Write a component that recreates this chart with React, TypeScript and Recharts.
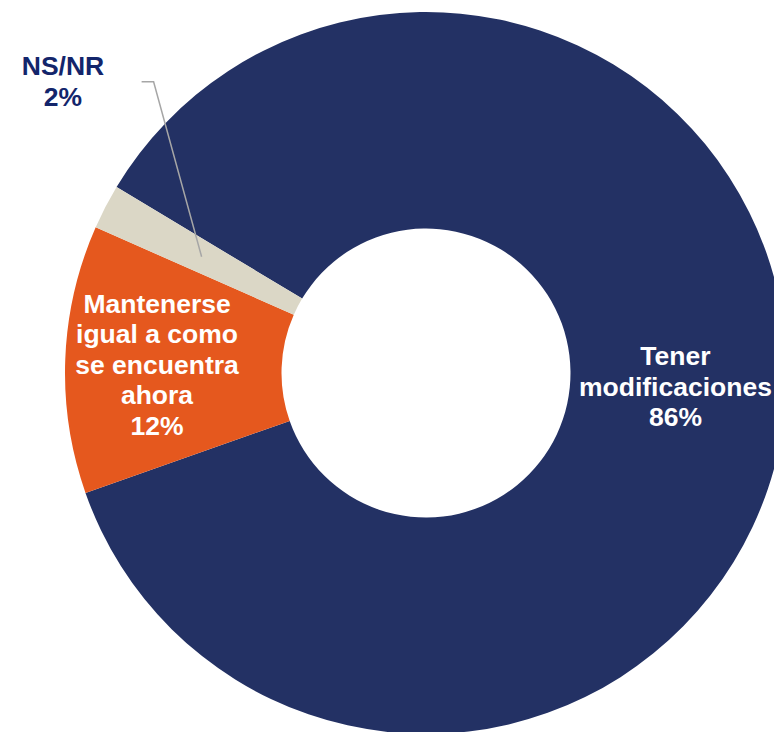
import { PieChart, Pie, Cell } from "recharts";

const categories = ["Tener modificaciones", "Mantenerse igual a como se encuentra ahora", "NS/NR"];
const values = [86, 12, 2];
const labelLines = [
  ["Tener", "modificaciones", "86%"],
  ["Mantenerse", "igual a como", "se encuentra", "ahora", "12%"],
  ["NS/NR", "2%"],
];

const COLORS = ["#233164", "#E5581E", "#DBD7C6"];
const RAD = Math.PI / 180;
const FONT = "'Liberation Sans', Arial, sans-serif";

// label placement relative to the slice's mid point (mid radius, mid angle)
const labelOffsets = [
  { dx: -2, dy: -33.5 },
  { dx: -16.4, dy: -50.3 },
  { dx: -138.6, dy: -181.7 },
];

const data = categories.map((name, i) => ({ name, value: values[i] }));

function renderLabel(props: any) {
  const { cx, cy, midAngle, innerRadius, outerRadius, index } = props;
  const r = (innerRadius + outerRadius) / 2;
  const ax = cx + r * Math.cos(-midAngle * RAD);
  const ay = cy + r * Math.sin(-midAngle * RAD);
  const off = labelOffsets[index];
  const lines = labelLines[index];
  const outside = index === 2;
  return (
    <g key={`lbl-${index}`}>
      {outside && (
        <polyline
          points={`${ax},${ay} ${ax - 48},${ay - 175} ${ax - 60},${ay - 175}`}
          fill="none"
          stroke="#A6A6A6"
          strokeWidth={1.5}
        />
      )}
      <text
        x={ax + off.dx}
        y={ay + off.dy}
        textAnchor="middle"
        fill={outside ? "#13256B" : "#FFFFFF"}
        fontFamily={FONT}
        fontWeight="bold"
        fontSize={26.5}
      >
        {lines.map((t, i) => (
          <tspan key={i} x={ax + off.dx} dy={i === 0 ? 0 : outside ? 31.5 : 30.5}>
            {t}
          </tspan>
        ))}
      </text>
    </g>
  );
}

export default function App() {
  return (
    <div style={{ position: "absolute", left: 0, top: 0, background: "#fff" }}>
      <PieChart
        width={774}
        height={732}
        margin={{ top: 0, right: 0, bottom: 0, left: 0 }}
        style={{ overflow: "visible" }}
      >
        <Pie
          data={data}
          dataKey="value"
          nameKey="name"
          cx={426}
          cy={373}
          innerRadius={144.5}
          outerRadius={361}
          startAngle={149}
          endAngle={-211}
          stroke="none"
          label={renderLabel}
          labelLine={false}
          isAnimationActive={false}
        >
          {data.map((d, i) => (
            <Cell key={d.name} fill={COLORS[i]} />
          ))}
        </Pie>
      </PieChart>
    </div>
  );
}
